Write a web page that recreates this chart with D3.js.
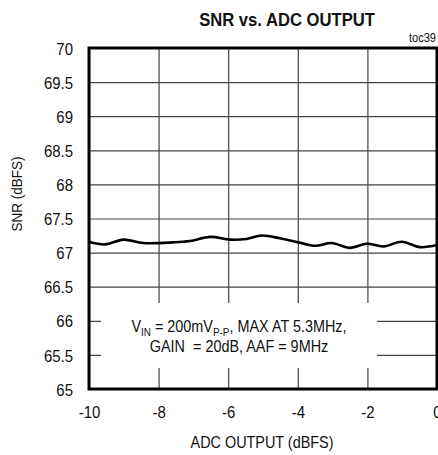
<!DOCTYPE html>
<html>
<head>
<meta charset="utf-8">
<script src="https://cdn.jsdelivr.net/npm/d3@7"></script>
<style>
body{margin:0;background:#fff;}
svg{display:block;}
text{font-family:"Liberation Sans",Arial,sans-serif;fill:#111;}
</style>
</head>
<body>
<svg></svg>
<script>
// chart data
var adcOutput = [-10,-9.54,-9.01,-8.44,-7.58,-7.1,-6.52,-5.95,-5.47,-5.04,-4.51,-3.98,-3.5,-3.03,-2.5,-2.02,-1.54,-1.01,-0.49,0]
var snrValues = [67.16,67.12,67.19,67.14,67.15,67.17,67.23,67.19,67.2,67.25,67.21,67.15,67.10,67.14,67.07,67.13,67.09,67.16,67.08,67.11]
var xTicks = [-10,-8,-6,-4,-2,0]
var yTicks = [65,65.5,66,66.5,67,67.5,68,68.5,69,69.5,70]

var screen = {width:438,height:455}
var margins = {top:48,left:89}
var width = 348
var height = 341
var tickNarrow = 0.88 //no narrow font here, so squeeze the text

var svg = d3.select("svg")
    .attr("width",screen.width)
    .attr("height",screen.height)

var xScale = d3.scaleLinear().domain([-10,0]).range([0,width])
var yScale = d3.scaleLinear().domain([65,70]).range([height,0])

var g = svg.append("g")
    .attr("transform","translate("+margins.left+","+margins.top+")")

//grid lines through the axes
var xAxis = d3.axisBottom(xScale).tickValues(xTicks).tickSize(-height).tickPadding(17).tickFormat(function(d){return String(d)})
var yAxis = d3.axisLeft(yScale).tickValues(yTicks).tickSize(-width).tickPadding(16).tickFormat(function(d){return String(d)})

var gx = g.append("g")
    .attr("transform","translate(0,"+height+")")
    .call(xAxis)
var gy = g.append("g").call(yAxis)

;[gx,gy].forEach(function(a)
{
    a.select(".domain").remove()
    a.selectAll(".tick line").attr("stroke","#444").attr("stroke-width",1.2)
    a.selectAll(".tick text").style("font-size","17px").attr("fill","#111")
        .attr("transform","scale("+tickNarrow+",1)")
})
gy.selectAll(".tick text").attr("dy","0.36em").attr("x",-16/tickNarrow)

//white box behind the note
g.append("rect")
    .attr("x",12).attr("y",255)
    .attr("width",276).attr("height",65)
    .attr("fill","#fff")

//frame
g.append("rect")
    .attr("x",0).attr("y",0)
    .attr("width",width).attr("height",height)
    .attr("fill","none")
    .attr("stroke","#000")
    .attr("stroke-width",3)

//the curve
var line = d3.line()
    .x(function(d,i){return xScale(adcOutput[i])})
    .y(function(d){return yScale(d)})
    .curve(d3.curveCatmullRom)

g.append("path")
    .datum(snrValues)
    .attr("d",line)
    .attr("fill","none")
    .attr("stroke","#000")
    .attr("stroke-width",2.6)

//squeezed text at x,y
var label = function(parent,x,y,size,sx,anchor,rot)
{
    return parent.append("g")
        .attr("transform","translate("+x+","+y+")"+(rot?" rotate("+rot+")":"")+" scale("+sx+",1)")
        .append("text")
        .attr("text-anchor",anchor)
        .style("font-size",size+"px")
}

//note text
var note = label(g,150,284,16,0.9,"middle")
note.append("tspan").text("V")
note.append("tspan").text("IN").attr("dy",4).style("font-size","11px")
note.append("tspan").text(" = 200mV").attr("dy",-4)
note.append("tspan").text("P-P").attr("dy",4).style("font-size","11px")
note.append("tspan").text(", MAX AT 5.3MHz,").attr("dy",-4)

label(g,150,304,16,0.9,"middle")
    .attr("xml:space","preserve")
    .text("GAIN  = 20dB, AAF = 9MHz")

//titles
label(svg,287,26,19,0.875,"middle")
    .style("font-weight","bold")
    .text("SNR vs. ADC OUTPUT")

label(svg,436,42,13,0.85,"end").text("toc39")

label(svg,22,194,15,0.9,"middle",-90).text("SNR (dBFS)")

label(svg,262,448,16,0.9,"middle").text("ADC OUTPUT (dBFS)")
</script>
</body>
</html>
